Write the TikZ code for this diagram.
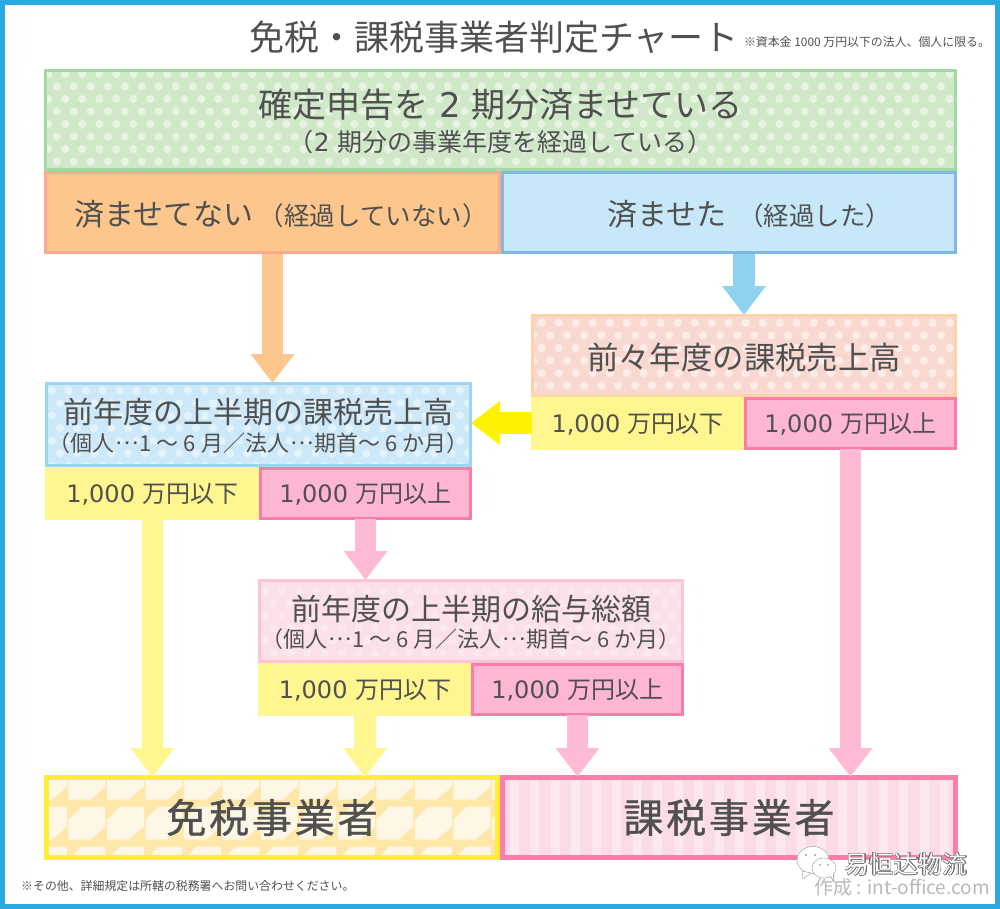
\documentclass[tikz,border=0pt]{standalone}
\usepackage{fontspec}
\usepackage[copies]{contour}
\setmainfont{Noto Sans CJK JP}
\newfontfamily\cnfont{Noto Sans CJK SC}
\newfontfamily\widefont{DejaVu Sans}
\usepackage{tikz}
\usetikzlibrary{arrows.meta,positioning}

\definecolor{frameBlue}{HTML}{29ABE2}
\definecolor{textGray}{HTML}{505050}
\definecolor{greenFill}{HTML}{CFE8C8}
\definecolor{greenDot}{HTML}{E8F3E4}
\definecolor{greenLine}{HTML}{A3D9A5}
\definecolor{orangeFill}{HTML}{FCC68D}
\definecolor{orangeLine}{HTML}{FBA98F}
\definecolor{skyFill}{HTML}{C7E8F8}
\definecolor{skyLine}{HTML}{7DB9E0}
\definecolor{skyArrow}{HTML}{8FD2F0}
\definecolor{peachFill}{HTML}{F9D8CF}
\definecolor{peachDot}{HTML}{FCEDE8}
\definecolor{peachLine}{HTML}{FBD5A6}
\definecolor{iceFill}{HTML}{CDE9F9}
\definecolor{iceDot}{HTML}{E2F3FC}
\definecolor{iceLine}{HTML}{99D6EF}
\definecolor{roseFill}{HTML}{FBDFE9}
\definecolor{roseDot}{HTML}{FCE9F0}
\definecolor{roseLine}{HTML}{FDC4D8}
\definecolor{lowYellow}{HTML}{FFF68F}
\definecolor{highPink}{HTML}{FFB6D3}
\definecolor{highLine}{HTML}{FB7CA8}
\definecolor{pureYellow}{HTML}{FFF200}
\definecolor{arrowPink}{HTML}{FFBAD5}
\definecolor{exemptLine}{HTML}{FFEE33}
\definecolor{exemptBand}{HTML}{FEE7A8}
\definecolor{exemptCream}{HTML}{FFF7E6}
\definecolor{taxLine}{HTML}{FF7BAC}
\definecolor{taxFill}{HTML}{FBDBE5}
\definecolor{taxPale}{HTML}{FDE8EE}

\newcommand{\fs}[1]{\fontsize{#1pt}{#1pt}\selectfont}
\newcommand{\wide}[1]{{\widefont #1}}
\newcommand{\midell}{\makebox[1.15em]{\raisebox{0.32em}{…}}}

\tikzset{
     flowBox/.style =
        { rectangle
        , draw
        , line width=3pt
        , inner sep=0pt
        , outer sep=0pt
        , text=textGray
        , align=center
        }
   , dotBox/.style n args = {5}{flowBox
        , draw=#1
        , fill=#2
        , path picture={
            \foreach \col in {-1,...,54} {
                \foreach \row in {-1,...,4} {
                    \fill[#3] ([xshift=#4pt+\col*17pt, yshift=-#5pt-\row*25pt]path picture bounding box.north west) circle (4.1pt);
                    \fill[#3] ([xshift=#4pt+8.5pt+\col*17pt, yshift=-#5pt-12.5pt-\row*25pt]path picture bounding box.north west) circle (4.1pt);
                }
            }
        }
        }
   , creamCells/.style =
        { path picture={
            \foreach \col in {-1,...,12} {
                \foreach \row in {-1,...,2} {
                    \fill[exemptCream] ([xshift=21.8pt+\col*38.5pt, yshift=-29.2pt-\row*40pt]path picture bounding box.north west)
                        ++(0pt,-13pt) -- ++(13pt,13pt) -- ++(24pt,0pt) -- ++(0pt,-20pt) -- ++(-15pt,-13pt) -- ++(-22pt,0pt) -- cycle;
                }
            }
        }
        }
   , paleStripes/.style =
        { path picture={
            \foreach \col in {-1,...,22} {
                \fill[taxPale] ([xshift=7pt+\col*20.5pt]path picture bounding box.south west) rectangle +(9pt,90pt);
            }
        }
        }
   , answerBox/.style =
        { flowBox
        , minimum height=80pt
        , text height=28pt
        , text depth=1.2pt
        }
   , lowBox/.style =
        { flowBox
        , draw=lowYellow
        , fill=lowYellow
        , font=\fs{24}
        , minimum height=50pt
        , text height=20pt
        , text depth=1.8pt
        }
   , highBox/.style =
        { flowBox
        , draw=highLine
        , fill=highPink
        , font=\fs{24}
        , minimum height=50pt
        , text height=20pt
        , text depth=1.8pt
        }
   , resultBox/.style =
        { flowBox
        , line width=5pt
        , minimum height=80pt
        , font=\fs{40}\addfontfeature{LetterSpace=7,FakeBold=0.8}
        }
   , flowLine/.style =
        { line width=21.5pt
        , -{Triangle[length=29pt,width=42pt,sep=0pt]}
        , shorten <=1pt
        , shorten >=0.5pt
        }
   , smallNote/.style =
        { inner sep=0pt
        , text=textGray
        , font=\fs{11.9}
        }
}

\begin{document}
\begin{tikzpicture}
            [ x=1pt
            , y=-1pt
            ]
            \useasboundingbox (0,0) rectangle (1000,909);
            \draw[frameBlue, line width=5pt] (2.5,2.5) rectangle (997.5,906.5);

            \node[inner sep=0pt, text=textGray, font=\fs{35}] (chartTitle) at (494,37) {免税・課税事業者判定チャート};
            \node[smallNote] (topNote) at (867,42) {※資本金 1000 万円以下の法人、個人に限る。};

            % top of the chart
            \node[dotBox={greenLine}{greenFill}{greenDot}{2.8}{3.5}, minimum width=910pt, minimum height=99pt] (checkBox) at (500.5,120)
                {\fs{34}\rule{0pt}{31pt}確定申告を\wide{ 2 }期分済ませている\\[9pt]\fs{25}（\wide{2 }期分の事業年度を経過している）};
            \node[answerBox, draw=orangeLine, fill=orangeFill, minimum width=454pt, below right=3pt and 0pt of checkBox.south west] (notDoneBox)
                {\hspace*{17.4pt}\fs{30}済ませてない\hspace{5pt}\fs{25.5}（経過していない）};
            \node[answerBox, draw=skyLine, fill=skyFill, minimum width=453pt, right=3pt of notDoneBox] (doneBox)
                {\hspace*{41pt}\fs{30}済ませた\hspace{5pt} \fs{25.5}（経過した）};

            % two years back
            \node[dotBox={peachLine}{peachFill}{peachDot}{9.2}{7.5}, minimum width=423pt, minimum height=80pt, font=\fs{31.4}, text height=29pt, text depth=1.2pt] (prevPrevBox) at (744,355.5) {前々年度の課税売上高};
            \node[lowBox, minimum width=210.5pt, below right=2.5pt and 0pt of prevPrevBox.south west] (prevPrevLow) {\wide{1,000 }万円以下};
            \node[highBox, minimum width=210pt, right=2.5pt of prevPrevLow] (prevPrevHigh) {\wide{1,000 }万円以上};

            % first half of last year
            \node[dotBox={iceLine}{iceFill}{iceDot}{5.2}{7.2}, minimum width=424pt, minimum height=82pt] (halfSalesBox) at (258.5,424.5)
                {\fs{30}\rule{0pt}{28.4pt}前年度の上半期の課税売上高\\[5pt]\fs{22}（個人\midell 1 ～ 6 月／法人\midell 期首～ 6 か月）};
            \node[lowBox, minimum width=212pt, below right=2.5pt and 0pt of halfSalesBox.south west] (halfSalesLow) {\wide{1,000 }万円以下};
            \node[highBox, minimum width=210pt, right=2pt of halfSalesLow] (halfSalesHigh) {\wide{1,000 }万円以上};

            \node[dotBox={roseLine}{roseFill}{roseDot}{5.5}{10.2}, minimum width=423pt, minimum height=81pt] (salaryBox) at (471,621)
                {\fs{30}\rule{0pt}{28.4pt}前年度の上半期の給与総額\\[5pt]\fs{22}（個人\midell 1 ～ 6 月／法人\midell 期首～ 6 か月）};
            \node[lowBox, minimum width=211pt, below right=2.5pt and 0pt of salaryBox.south west] (salaryLow) {\wide{1,000 }万円以下};
            \node[highBox, minimum width=210pt, right=2pt of salaryLow] (salaryHigh) {\wide{1,000 }万円以上};

            % results
            \node[resultBox, draw=exemptLine, fill=exemptBand, creamCells, minimum width=451pt] (exemptBox) at (272,817.5) {免税事業者};
            \node[resultBox, draw=taxLine, fill=taxFill, paleStripes, minimum width=453pt, right=5pt of exemptBox] (taxableBox) {課税事業者};

            \path[flowLine]
            (notDoneBox.south) edge [orangeFill] (notDoneBox.south |- halfSalesBox.north)
            (doneBox.south -| prevPrevBox.north) edge [skyArrow] (prevPrevBox.north)
            (prevPrevLow.west) edge [pureYellow] (halfSalesBox.east |- prevPrevLow.west)
            (prevPrevHigh.south) edge [arrowPink] (prevPrevHigh.south |- taxableBox.north)
            (halfSalesLow.south) edge [lowYellow] (halfSalesLow.south |- exemptBox.north)
            (halfSalesHigh.south) edge [arrowPink] (halfSalesHigh.south |- salaryBox.north)
            (salaryLow.south) edge [lowYellow] (salaryLow.south |- exemptBox.north)
            (salaryHigh.south) edge [arrowPink] (salaryHigh.south |- taxableBox.north)
            ;

            \node[smallNote, anchor=west] (bottomNote) at (21,885.5) {※その他、詳細規定は所轄の税務署へお問い合わせください。};

            % stamp over the corner
            \fill[white, draw=black!35, line width=0.5pt] (813,860) ellipse (16 and 13.5);
            \fill[white, draw=black!35, line width=0.5pt] (802,871) -- (803,879) -- (811,873) -- cycle;
            \fill[white, draw=black!45, line width=0.5pt] (824,868) ellipse (12 and 10);
            \fill[white, draw=black!45, line width=0.5pt] (830,876) -- (834,882) -- (833,872) -- cycle;
            \fill[white] (824,868) ellipse (11.6 and 9.6);
            \foreach \dotx/\doty/\dotr in {806/855/1.2, 815/855/1.2, 820/865/1, 828/865/1}
                \fill[black!40] (\dotx,\doty) circle (\dotr);
            \contourlength{0.5pt}
            \node[inner sep=0pt, text=white, font=\cnfont\fs{24.5}] (stampName) at (906,864.5) {\contour[24]{black!55}{易恒达物流}};
            \node[inner sep=0pt, text=black!28, font=\fs{19}, anchor=east] (stampSite) at (990,887.5) {作成 : int-office.com};
\end{tikzpicture}
\end{document}
